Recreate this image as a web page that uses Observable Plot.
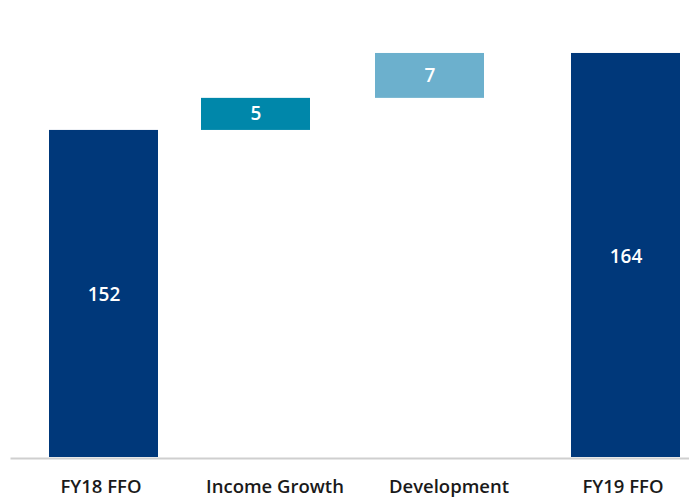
<!DOCTYPE html>
<html>
<head>
<meta charset="utf-8">
<script src="https://cdn.jsdelivr.net/npm/d3@7"></script>
<script src="https://cdn.jsdelivr.net/npm/@observablehq/plot@0.6"></script>
<style>
  html, body { margin: 0; padding: 0; background: #fff; }
  #chart { width: 689px; height: 497px; overflow: hidden; }
</style>
</head>
<body>
<div id="chart"></div>
<script>
const categories = ["FY18 FFO", "Income Growth", "Development", "FY19 FFO"];
const values = [152, 5, 7, 164];
const kinds = ["total", "step", "step", "total"];
const barColors = ["#00387A", "#0087AA", "#6CB0CD", "#00387A"];
const yMin = 101;
const yMax = 170;

let running = 0;
const rows = categories.map((c, i) => {
  let y1, y2;
  if (kinds[i] === "total") { y1 = yMin; y2 = values[i]; running = values[i]; }
  else { y1 = running; y2 = running + values[i]; running = y2; }
  return { category: c, kind: kinds[i], value: values[i], y1, y2, mid: (y1 + y2) / 2 };
});
const totals = rows.filter(d => d.kind === "total");
const steps = rows.filter(d => d.kind === "step");

const font = "'Open Sans', 'Noto Sans', sans-serif";

const chart = Plot.plot({
  width: 689,
  height: 497,
  marginLeft: 45.5,
  marginRight: 12.5,
  marginTop: 14.5,
  marginBottom: 40,
  style: { fontFamily: font, background: "#fff" },
  x: { domain: categories, paddingInner: 0.374, paddingOuter: 0, label: null },
  y: { domain: [yMin, yMax], axis: null },
  color: { domain: categories, range: barColors },
  marks: [
    Plot.barY(totals, { x: "category", y1: "y1", y2: "y2", fill: "category", dx: 3 }),
    Plot.barY(steps, { x: "category", y1: "y1", y2: "y2", fill: "category", dx: -19 }),
    Plot.ruleY([yMin], { stroke: "#cfcfcf", strokeWidth: 2, insetLeft: -35, insetRight: -13, dy: 1 }),
    Plot.text(totals, { x: "category", y: "mid", text: d => String(d.value), fill: "#fff", fontSize: 19, fontWeight: 600, dx: 3, dy: 1 }),
    Plot.text(steps, { x: "category", y: "mid", text: d => String(d.value), fill: "#fff", fontSize: 19, fontWeight: 600, dx: -19 }),
    Plot.axisX({ tickSize: 0, tickPadding: 22, fontSize: 18.5, fontWeight: 600, fill: "#1a1a1a", label: null })
  ]
});

document.getElementById("chart").appendChild(chart);
</script>
</body>
</html>
